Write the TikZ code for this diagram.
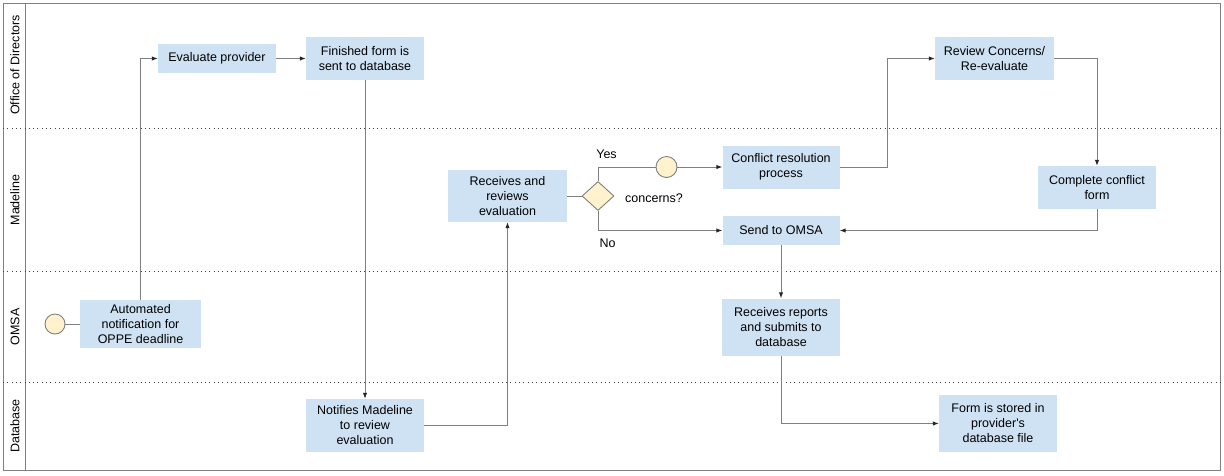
\documentclass[tikz,border=0pt]{standalone}
\usepackage{fontspec}
\setmainfont{Liberation Sans}
\usetikzlibrary{arrows.meta,shapes.geometric}
\definecolor{boxblue}{HTML}{CFE2F3}
\definecolor{evyellow}{HTML}{FFF2CC}
\definecolor{linegray}{HTML}{7F7F7F}
\definecolor{framegray}{HTML}{808080}
\tikzset{
  procbox/.style={fill=boxblue, draw=none, inner sep=0pt, align=center},
  evcircle/.style={circle, fill=evyellow, draw=linegray, line width=0.9pt, minimum size=20pt, inner sep=0pt},
  decbox/.style={diamond, fill=evyellow, draw=linegray, line width=0.9pt, aspect=1.1, minimum width=32pt, minimum height=29pt, inner sep=0pt},
  conn/.style={draw=linegray, line width=1pt},
  arr/.style={conn, -{Latex[length=6pt,width=4.5pt,color=black!85]}},
  lanesep/.style={draw=black!75, line width=1pt, dash pattern=on 1pt off 3.3pt},
  lanelabel/.style={rotate=90, inner sep=0pt},
  lbl/.style={inner sep=0pt}
}
\begin{document}
\begin{tikzpicture}[x=1pt, y=-1pt, font=\fontsize{12.5}{15}\selectfont]
\useasboundingbox (0,0) rectangle (1224,475);
% frame
\draw[draw=framegray, line width=1pt] (3,3) rectangle (1220,470.5);
\draw[draw=framegray, line width=1pt] (25,3) -- (25,470.5);
% lane separators
\draw[lanesep] (3,128) -- (1220,128);
\draw[lanesep] (3,271.5) -- (1220,271.5);
\draw[lanesep] (3,382) -- (1220,382);
% lane labels
\node[lanelabel] (l1) at (15,65) {Office of Directors};
\node[lanelabel] (l2) at (15,200) {Madeline};
\node[lanelabel] (l3) at (15,327) {OMSA};
\node[lanelabel] (l4) at (15,426) {Database};
% nodes
\node[evcircle] (start) at (55,324) {};
\node[procbox, minimum width=121pt, minimum height=48pt] (auto) at (140.5,324) {Automated\\notification for\\OPPE deadline};
\node[procbox, minimum width=118pt, minimum height=29pt] (evalp) at (217,58.5) {Evaluate provider};
\node[procbox, minimum width=118pt, minimum height=43pt] (finished) at (365,58.5) {Finished form is\\sent to database};
\node[procbox, minimum width=118pt, minimum height=53pt] (notify) at (365,425.5) {Notifies Madeline\\to review\\evaluation};
\node[procbox, minimum width=119pt, minimum height=52pt] (recv) at (507.5,196) {Receives and\\reviews\\evaluation};
\node[decbox] (dec) at (598,196) {};
\node[evcircle, minimum size=21pt] (c2) at (666.5,167) {};
\node[procbox, minimum width=117pt, minimum height=43pt] (conflict) at (781,167) {Conflict resolution\\process};
\node[procbox, minimum width=117pt, minimum height=29pt] (send) at (781,230.5) {Send to OMSA};
\node[procbox, minimum width=119pt, minimum height=43pt] (review) at (994.5,58.5) {Review Concerns/\\Re-evaluate};
\node[procbox, minimum width=118pt, minimum height=43pt] (complete) at (1097,187.5) {Complete conflict\\form};
\node[procbox, minimum width=118pt, minimum height=57pt] (reports) at (781,327) {Receives reports\\and submits to\\database};
\node[procbox, minimum width=118pt, minimum height=57pt] (stored) at (998,423.5) {Form is stored in\\provider\textquotesingle s\\database file};
% labels
\node[lbl] (yes) at (606.5,154) {Yes};
\node[lbl] (no) at (607.5,243) {No};
\node[lbl] (concerns) at (654,198) {concerns?};
% connectors
\draw[conn] (start) -- (auto);
\draw[arr] (auto.north) |- (evalp.west);
\draw[arr] (evalp) -- (finished);
\draw[arr] (finished) -- (notify);
\draw[arr] (notify.east) -| (recv.south);
\draw[conn] (recv) -- (dec);
\draw[conn] (dec.north) |- (c2.west);
\draw[arr] (c2) -- (conflict);
\draw[arr] (dec.south) |- (send.west);
\draw[arr] (conflict.east) -- ++(48,0) |- (review.west);
\draw[arr] (review.east) -| (complete.north);
\draw[arr] (complete.south) |- (send.east);
\draw[arr] (send) -- (reports);
\draw[arr] (reports.south) |- (stored.west);
\end{tikzpicture}
\end{document}
